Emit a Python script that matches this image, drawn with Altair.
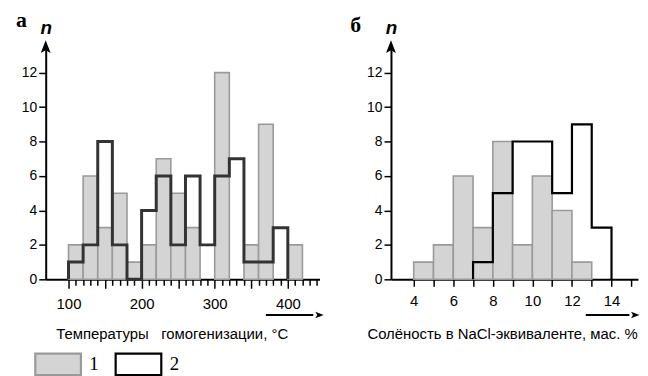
import altair as alt
import pandas as pd

# ---- data: panel a (homogenization temperature, bin width 20) ----
temp_bins = [100, 120, 140, 160, 180, 200, 220, 240, 260, 280, 300, 320, 340, 360, 380, 400]
temp_counts1 = [2, 6, 3, 5, 1, 2, 7, 5, 3, 0, 12, 0, 2, 9, 0, 2]
temp_bins2 = [100, 120, 140, 160, 180, 200, 220, 240, 260, 280, 300, 320, 340, 360, 380]
temp_counts2 = [1, 2, 8, 2, 0, 4, 6, 2, 6, 2, 6, 7, 1, 1, 3]
temp_width = 20

# ---- data: panel б (salinity, bin width 1) ----
sal_bins = [4, 5, 6, 7, 8, 9, 10, 11, 12]
sal_counts1 = [1, 2, 6, 3, 8, 2, 6, 4, 1]
sal_bins2 = [7, 8, 9, 10, 11, 12, 13]
sal_counts2 = [1, 5, 8, 8, 5, 9, 3]
sal_width = 1

series_names = ["1", "2"]
y_ticks = [0, 2, 4, 6, 8, 10, 12]
temp_ticks = list(range(100, 441, 10))
sal_ticks = list(range(4, 16))

YMAX = 13.42
PLOT_H = 233


def bars_df(starts, counts, w):
    rows = [{"x": s, "x2": s + w, "n": c, "series": "1"} for s, c in zip(starts, counts) if c > 0]
    return pd.DataFrame(rows)


def step_df(starts, counts, w):
    pts = [{"x": starts[0], "n": 0}]
    for s, c in zip(starts, counts):
        pts.append({"x": s, "n": c})
    pts.append({"x": starts[-1] + w, "n": 0})
    for i, p in enumerate(pts):
        p["i"] = i
    return pd.DataFrame(pts)


fill_scale = alt.Scale(domain=series_names, range=["#d4d4d4", "#ffffff"])
stroke_scale = alt.Scale(domain=series_names, range=["#9a9a9a", "#000000"])

arrow_up = "M0,-1 L0.62,0.62 L0,0.25 L-0.62,0.62 Z"
arrow_right = "M1,0 L-0.62,0.62 L-0.25,0 L-0.62,-0.62 Z"


def panel(starts, counts, starts2, counts2, w, xdom, width, ticks, label_expr,
          tick_size, label_pad, title, title_x, title_size, line_color, line_w,
          letter, letter_dx, letter_dy, arrow_x1, arrow_x2, show_legend):
    xs = alt.Scale(domain=xdom, nice=False, zero=False)
    ys = alt.Scale(domain=[0, YMAX], nice=False)
    xaxis = alt.Axis(values=ticks, labelExpr=label_expr, tickSize=tick_size,
                     title=title, titleX=title_x, titleY=55, titleAlign="center",
                     titleBaseline="middle", titleFontWeight="normal", titleFontSize=title_size,
                     titleFont="Liberation Sans", labelPadding=label_pad, labelFlush=False,
                     labelOverlap=False, labelFontSize=15)
    yaxis = alt.Axis(values=y_ticks, tickSize=7, labelPadding=2, title="n",
                     titleAngle=0, titleX=0, titleY=-15, titleAlign="center",
                     titleBaseline="alphabetic", titleFont="Liberation Sans",
                     titleFontSize=19, titleFontStyle="italic", titleFontWeight="bold",
                     labelOverlap=False, labelFontSize=14)
    X = lambda f: alt.X(f, scale=xs, axis=xaxis)
    Y = lambda f: alt.Y(f, scale=ys, axis=yaxis)
    legend = alt.Legend(orient="none", legendX=-12, legendY=294, direction="horizontal",
                        title=None, symbolType="M-1,-0.47 L1,-0.47 L1,0.47 L-1,0.47 Z",
                        symbolSize=2116, symbolStrokeWidth=2.2, labelFont="Liberation Serif",
                        labelFontSize=19, labelOffset=7, columnPadding=12, padding=0,
                        symbolOpacity=1) if show_legend else None
    fill_enc = alt.Fill("series:N", scale=fill_scale, legend=legend) if show_legend else \
        alt.Fill("series:N", scale=fill_scale)
    stroke_enc = alt.Stroke("series:N", scale=stroke_scale, legend=legend) if show_legend else \
        alt.Stroke("series:N", scale=stroke_scale)

    bars = alt.Chart(bars_df(starts, counts, w)).mark_rect(strokeWidth=1.6).encode(
        x=X("x:Q"),
        x2="x2:Q",
        y=Y("n:Q"),
        y2=alt.datum(0),
        fill=fill_enc,
        stroke=stroke_enc,
    )
    step = alt.Chart(step_df(starts2, counts2, w)).mark_line(
        interpolate="step-after", color=line_color, strokeWidth=line_w,
        strokeJoin="miter").encode(
        x=X("x:Q"), y=Y("n:Q"), order="i:Q")
    head_up = alt.Chart(pd.DataFrame({"x": [xdom[0]], "n": [YMAX]})).mark_point(
        shape=arrow_up, size=256, filled=True, color="black", opacity=1, clip=False).encode(
        x=X("x:Q"), y=Y("n:Q"))
    arrow_df = pd.DataFrame({"x": [arrow_x1], "x2": [arrow_x2 - (arrow_x2 - arrow_x1) * 0.1], "n": [-2.07]})
    arrow_line = alt.Chart(arrow_df).mark_rule(color="black", strokeWidth=1.8, clip=False).encode(
        x=X("x:Q"), x2="x2:Q", y=Y("n:Q"))
    head_right = alt.Chart(pd.DataFrame({"x": [arrow_x2], "n": [-2.07]})).mark_point(
        shape=arrow_right, size=110, filled=True, color="black", opacity=1, clip=False).encode(
        x=X("x:Q"), y=Y("n:Q"))
    letter_mark = alt.Chart(pd.DataFrame({"t": [letter]})).mark_text(
        font="Liberation Serif", fontSize=22, fontWeight="bold", align="left",
        baseline="alphabetic", color="black").encode(
        text="t:N", x=alt.value(letter_dx), y=alt.value(letter_dy))
    return alt.layer(bars, step, head_up, arrow_line, head_right, letter_mark).properties(
        width=width, height=PLOT_H)


left = panel(temp_bins, temp_counts1, temp_bins2, temp_counts2, temp_width,
             [68.8, 443.4], 276, temp_ticks,
             "datum.value % 100 === 0 ? datum.label : ''",
             {"condition": {"test": "datum.value % 50 === 0", "value": 9}, "value": 6}, 8,
             "Температуры\u00a0\u00a0 гомогенизации, °C", 127, 15, "#333333", 3,
             "а", -30, -21, 370, 442, True)
right = panel(sal_bins, sal_counts1, sal_bins2, sal_counts2, sal_width,
              [2.85, 15.34], 249, sal_ticks,
              "datum.value % 2 === 0 && datum.value <= 14 ? datum.label : ''",
              7, 7, "Солёность в NaCl-эквиваленте, мас. %", 112, 15, "#000000", 2.2,
              "б", -41, -16, 12.7, 15.15, False)

chart = alt.hconcat(left, right, spacing=72, bounds="flush").resolve_scale(
    fill="shared", stroke="shared"
).configure_view(stroke=None).configure_axis(
    domainColor="black", domainWidth=2, tickColor="black", tickWidth=1.5,
    labelFont="Liberation Sans", labelColor="black",
    grid=False, zindex=1, titleColor="black", labelOverlap=False
).properties(padding={"left": 8, "top": 0, "right": 0, "bottom": 0})

chart.save("out.html", embed_options={"renderer": "svg", "actions": False})
